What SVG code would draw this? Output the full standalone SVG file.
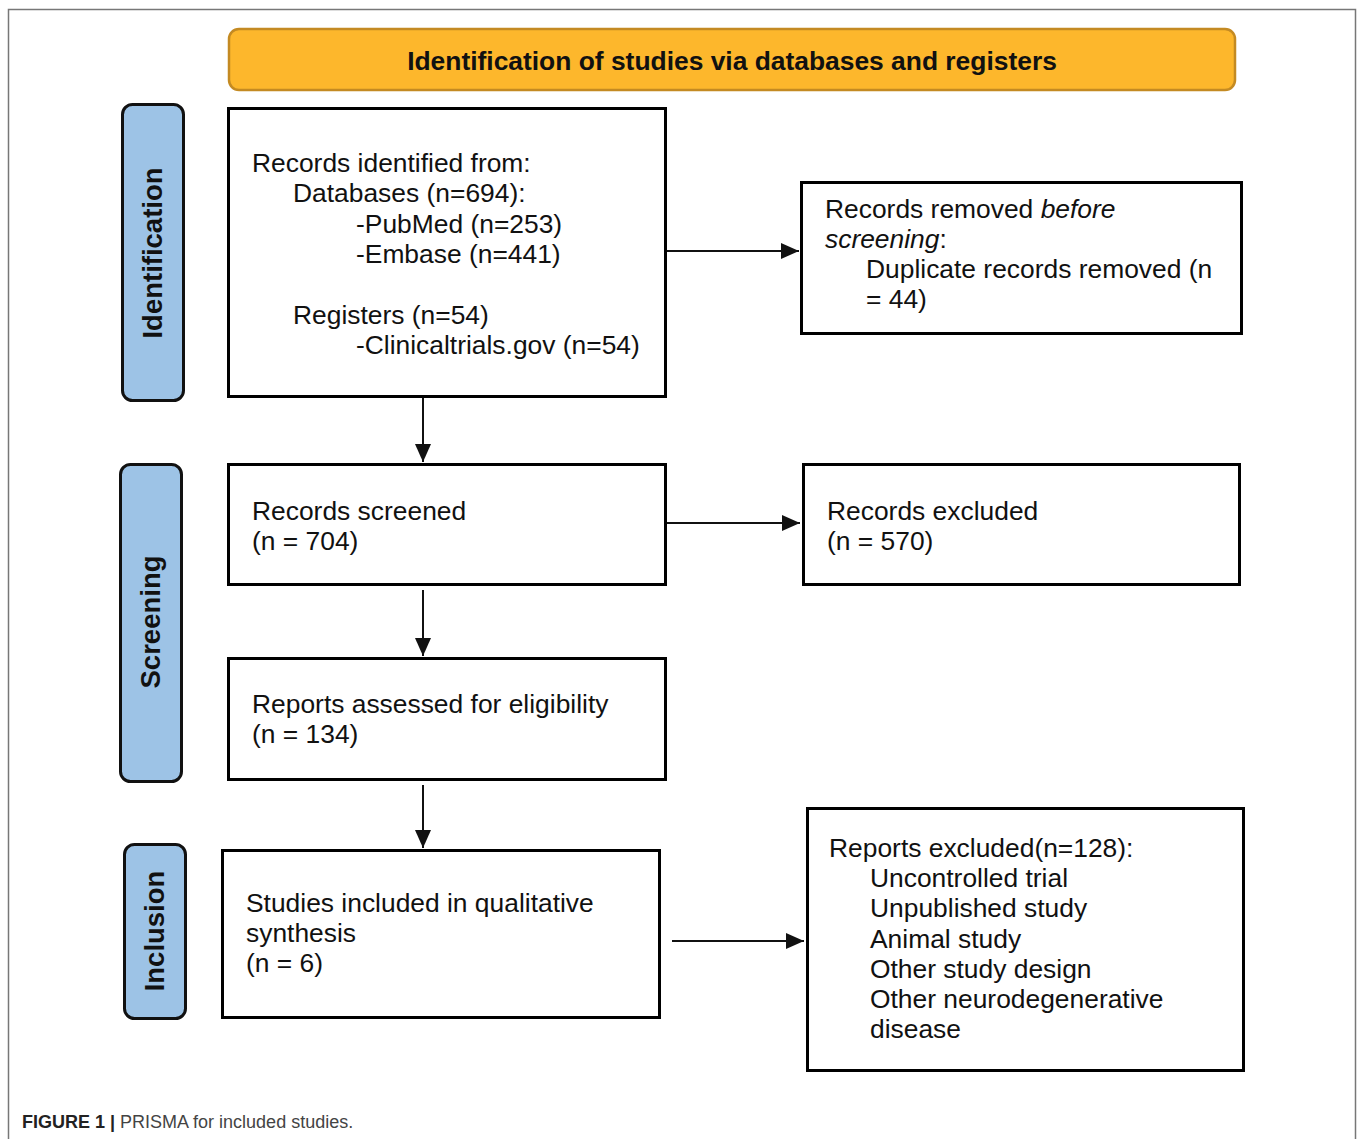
<svg xmlns="http://www.w3.org/2000/svg" width="1357" height="1139" viewBox="0 0 1357 1139">
<style>
.t{font-family:"Liberation Sans",Arial,sans-serif;font-size:26.4px;fill:#111}
.box{fill:#fff;stroke:#000;stroke-width:3}
.side{fill:#9DC3E6;stroke:#111;stroke-width:3}
.sl{font-family:"Liberation Sans",Arial,sans-serif;font-size:27.5px;font-weight:bold;fill:#111}
.c{stroke:#111;stroke-width:2;fill:none}
</style>
<defs>
<marker id="ah2" markerWidth="18" markerHeight="16" refX="18" refY="8" orient="auto" markerUnits="userSpaceOnUse" viewBox="0 0 18 16">
<path d="M0,0 L18,8 L0,16 z" fill="#111"/>
</marker>
</defs>
<rect x="0" y="0" width="1357" height="1139" fill="#fff"/>
<path d="M8.5,1139 V9.5 H1355.5 V1139" fill="none" stroke="#777" stroke-width="1.5"/>
<g id="header">
<rect x="229" y="29" width="1006" height="61" rx="10" fill="#FDB72C" stroke="#C48A22" stroke-width="2.5"/>
<text x="732" y="70" text-anchor="middle" font-family="'Liberation Sans',Arial,sans-serif" font-size="26.4" font-weight="bold" fill="#111">Identification of studies via databases and registers</text>
</g>
<g id="side-identification">
<rect class="side" x="122.5" y="104.5" width="61" height="296" rx="10"/>
<text class="sl" transform="translate(162,253) rotate(-90)" text-anchor="middle">Identification</text>
</g>
<g id="side-screening">
<rect class="side" x="120.5" y="464.5" width="61" height="317" rx="10"/>
<text class="sl" transform="translate(160,622) rotate(-90)" text-anchor="middle">Screening</text>
</g>
<g id="side-inclusion">
<rect class="side" x="124.5" y="844.5" width="61" height="174" rx="10"/>
<text class="sl" transform="translate(164,931) rotate(-90)" text-anchor="middle">Inclusion</text>
</g>
<g id="identified">
<rect class="box" x="228.5" y="108.5" width="437" height="288"/>
<text class="t" x="252" y="172">Records identified from:</text>
<text class="t" x="293" y="202">Databases (n=694):</text>
<text class="t" x="356" y="233">-PubMed (n=253)</text>
<text class="t" x="356" y="263">-Embase (n=441)</text>
<text class="t" x="293" y="324">Registers (n=54)</text>
<text class="t" x="356" y="354">-Clinicaltrials.gov (n=54)</text>
</g>
<g id="removed">
<rect class="box" x="801.5" y="182.5" width="440" height="151"/>
<text class="t" x="825" y="218">Records removed <tspan font-style="italic">before</tspan></text>
<text class="t" x="825" y="248"><tspan font-style="italic">screening</tspan>:</text>
<text class="t" x="866" y="278">Duplicate records removed (n</text>
<text class="t" x="866" y="308">= 44)</text>
</g>
<g id="screened">
<rect class="box" x="228.5" y="464.5" width="437" height="120"/>
<text class="t" x="252" y="520">Records screened</text>
<text class="t" x="252" y="550">(n = 704)</text>
</g>
<g id="excluded">
<rect class="box" x="803.5" y="464.5" width="436" height="120"/>
<text class="t" x="827" y="520">Records excluded</text>
<text class="t" x="827" y="550">(n = 570)</text>
</g>
<g id="assessed">
<rect class="box" x="228.5" y="658.5" width="437" height="121"/>
<text class="t" x="252" y="713">Reports assessed for eligibility</text>
<text class="t" x="252" y="743">(n = 134)</text>
</g>
<g id="included">
<rect class="box" x="222.5" y="850.5" width="437" height="167"/>
<text class="t" x="246" y="912">Studies included in qualitative</text>
<text class="t" x="246" y="942">synthesis</text>
<text class="t" x="246" y="972">(n = 6)</text>
</g>
<g id="reports-excluded">
<rect class="box" x="807.5" y="808.5" width="436" height="262"/>
<text class="t" x="829" y="857">Reports excluded(n=128):</text>
<text class="t" x="870" y="887">Uncontrolled trial</text>
<text class="t" x="870" y="917">Unpublished study</text>
<text class="t" x="870" y="948">Animal study</text>
<text class="t" x="870" y="978">Other study design</text>
<text class="t" x="870" y="1008">Other neurodegenerative</text>
<text class="t" x="870" y="1038">disease</text>
</g>
<g id="connectors">
<line class="c" x1="667" y1="251" x2="799" y2="251" marker-end="url(#ah2)"/>
<line class="c" x1="423" y1="398" x2="423" y2="462" marker-end="url(#ah2)"/>
<line class="c" x1="667" y1="523" x2="800" y2="523" marker-end="url(#ah2)"/>
<line class="c" x1="423" y1="590" x2="423" y2="656" marker-end="url(#ah2)"/>
<line class="c" x1="423" y1="785" x2="423" y2="848" marker-end="url(#ah2)"/>
<line class="c" x1="672" y1="941" x2="804" y2="941" marker-end="url(#ah2)"/>
</g>
<g id="caption">
<text x="22" y="1128" font-family="'Liberation Sans',Arial,sans-serif" font-size="18" fill="#444"><tspan font-weight="bold" fill="#222">FIGURE 1 |</tspan> PRISMA for included studies.</text>
</g>
</svg>
